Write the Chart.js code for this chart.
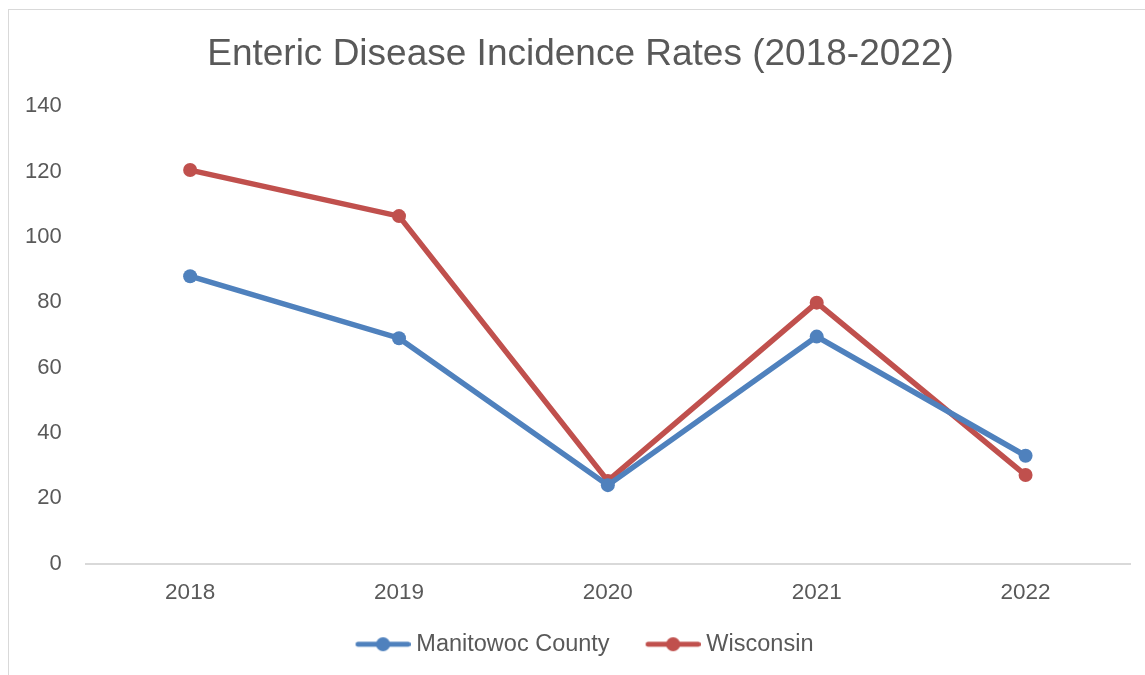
<!DOCTYPE html>
<html>
<head>
<meta charset="utf-8">
<script src="https://cdn.jsdelivr.net/npm/chart.js@4"></script>
<style>
  html, body { margin: 0; padding: 0; background: #fff; overflow: hidden; }
  #frame { position: absolute; left: 8px; top: 9px; width: 1200px; height: 700px; border: 1px solid #d9d9d9; }
  #wrap { position: absolute; left: 0; top: 0; width: 1145px; height: 675px; }
</style>
</head>
<body>
<div id="frame"></div>
<div id="wrap"><canvas id="chart" width="1145" height="675"></canvas></div>
<script>
const years = ['2018', '2019', '2020', '2021', '2022'];
const manitowoc = [88, 69, 24, 69.5, 33];
const wisconsin = [120.5, 106.4, 25.3, 79.9, 27.1];
const yTicks = [0, 20, 40, 60, 80, 100, 120, 140];

const blue = '#4f81bd';
const red = '#c0504d';
const textColor = '#595959';
const fontFamily = '"Liberation Sans", Arial, sans-serif';

// legend marker: short line with a dot in the middle, blank space on the left
const legendMarker = (color) => {
  const c = document.createElement('canvas');
  c.width = 87;
  c.height = 16;
  const ctx = c.getContext('2d');
  ctx.strokeStyle = color;
  ctx.lineWidth = 5;
  ctx.lineCap = 'round';
  ctx.beginPath();
  ctx.moveTo(34.5, 8);
  ctx.lineTo(84.5, 8);
  ctx.stroke();
  ctx.fillStyle = color;
  ctx.beginPath();
  ctx.arc(59.5, 8, 7, 0, Math.PI * 2);
  ctx.fill();
  return c;
};

// nudge title and legend sideways, the original is not centred on the canvas
const shiftBoxes = {
  id: 'shiftBoxes',
  afterLayout(chart) {
    chart.titleBlock.left += 15;
    chart.titleBlock.right += 15;
    chart.legend.left += 6;
    chart.legend.right += 6;
  },
};

const makeSeries = (label, data, color) => ({
  label,
  data,
  borderColor: color,
  backgroundColor: color,
  borderWidth: 5.5,
  pointRadius: 7,
  pointHoverRadius: 7,
  pointBorderWidth: 0,
  pointStyle: 'circle',
  tension: 0,
});

new Chart(document.getElementById('chart'), {
  type: 'line',
  data: {
    labels: years,
    datasets: [
      makeSeries('Manitowoc County', manitowoc, blue),
      makeSeries('Wisconsin', wisconsin, red),
    ],
  },
  plugins: [shiftBoxes],
  options: {
    responsive: false,
    animation: false,
    layout: { padding: { left: 1, right: 15, top: 20, bottom: 9 } },
    plugins: {
      title: {
        display: true,
        text: 'Enteric Disease Incidence Rates (2018-2022)',
        color: textColor,
        font: { family: fontFamily, size: 37, weight: 'normal' },
        padding: { top: 13, bottom: 29 },
      },
      legend: {
        position: 'bottom',
        labels: {
          usePointStyle: true,
          pointStyleWidth: 75,
          color: textColor,
          font: { family: fontFamily, size: 23.5 },
          padding: 10,
          generateLabels: (chart) => chart.data.datasets.map((ds, i) => ({
            text: ds.label,
            fontColor: textColor,
            pointStyle: legendMarker(ds.borderColor),
            datasetIndex: i,
            lineWidth: 0,
            strokeStyle: 'transparent',
            fillStyle: 'transparent',
          })),
        },
      },
      tooltip: { enabled: false },
    },
    scales: {
      x: {
        offset: true,
        grid: { display: false, drawTicks: false },
        border: { display: true, color: '#d9d9d9', width: 2 },
        ticks: { color: textColor, font: { family: fontFamily, size: 22.5 }, padding: 16 },
      },
      y: {
        min: 0,
        max: 140,
        afterBuildTicks: (axis) => { axis.ticks = yTicks.map(v => ({ value: v })); },
        grid: { display: false, drawTicks: false },
        border: { display: false },
        ticks: { color: textColor, font: { family: fontFamily, size: 22 }, padding: 24 },
      },
    },
  },
});
</script>
</body>
</html>
